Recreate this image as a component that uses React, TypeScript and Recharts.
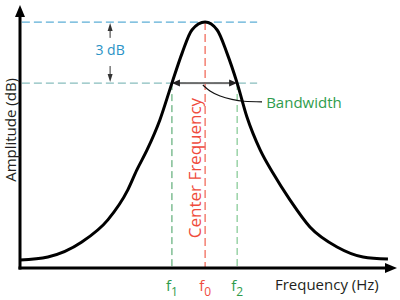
import React from 'react';
import { ComposedChart, Line, XAxis, YAxis, ReferenceLine, ReferenceDot } from 'recharts';

// Response curve (frequency in arbitrary units 0..100, amplitude 0..100)
const frequency = [0, 7.4, 16.4, 23.3, 28.6, 31.0, 33.7, 37.1, 40.3, 43.0, 45.6, 49.1, 52.3, 54.9, 57.6, 60.2, 63.7, 67.1, 71.6, 76.9, 84.1, 91.0, 97.6];
const amplitude = [3.0, 4.2, 9.9, 18.3, 29.7, 37.3, 44.9, 56.3, 70.3, 81.7, 90.5, 93.5, 90.5, 81.7, 70.3, 57.4, 44.9, 36.1, 25.9, 15.6, 8.0, 4.2, 3.4];

// Leader line from the bandwidth arrows to the "Bandwidth" label
const leaderX = [48.5, 50.4, 53.1, 56.2, 59.4, 64.2];
const leaderY = [69.6, 67.3, 65.4, 64.1, 63.4, 63.2];

// Key frequencies and levels
const f1 = 40.3;
const f0 = 49.1;
const f2 = 57.6;
const peakDb = 93.5;
const halfDb = 70.3;
const dashEnd = 62.9;
const dbArrowX = 23.9;
const dbArrowUp = [87.5, 93.2];
const dbArrowDown = [76.8, 70.7];

// Tick labels
const tickValues = [f1, f0, f2];
const tickMain = ['f', 'f', 'f'];
const tickSubs = ['1', '0', '2'];

// Text labels
const labels = {
  db: '3 dB',
  bandwidth: 'Bandwidth',
  center: 'Center Frequency',
  xTitle: 'Frequency (Hz)',
  yTitle: 'Amplitude (dB)',
};
const labelPos = {
  db: [23.9, 82.9],
  bandwidth: [65.3, 63.1],
  center: [46.2, 38.0],
  xTitle: [81.4, -6.1],
  yTitle: [-2.65, 52.5],
};

const curveData = frequency.map((x, i) => ({ x, y: amplitude[i] }));
const leaderData = leaderX.map((x, i) => ({ x, y: leaderY[i] }));

const FONT = '"Open Sans", "Noto Sans", sans-serif';
const COL = {
  blue: '#3399cc',
  teal: '#88bdbd',
  red: '#f0604e',
  green: '#3f9d5c',
  lightGreen: '#80c791',
  gray: '#6b6b6b',
  text: '#231f20',
  blueText: '#2b93c6',
  greenText: '#2f9c4c',
  redText: '#ef4b3c',
};
const tickColors = [COL.greenText, COL.redText, COL.greenText];

function arrowShape(color: string, width: number, headLen: number, headW: number, headColor?: string, cap: 'butt' | 'square' = 'butt') {
  return (p: any) => {
    const { x1, y1, x2, y2 } = p;
    const dx = x2 - x1;
    const dy = y2 - y1;
    const len = Math.sqrt(dx * dx + dy * dy) || 1;
    const ux = dx / len;
    const uy = dy / len;
    const bx = x2 - ux * headLen;
    const by = y2 - uy * headLen;
    const lx = x2 - ux * headLen * 0.8;
    const ly = y2 - uy * headLen * 0.8;
    const nx = -uy * headW / 2;
    const ny = ux * headW / 2;
    return (
      <g>
        <line x1={x1} y1={y1} x2={lx} y2={ly} stroke={color} strokeWidth={width} strokeLinecap={cap} />
        <polygon points={`${x2},${y2} ${bx + nx},${by + ny} ${bx - nx},${by - ny}`} fill={headColor || color} />
      </g>
    );
  };
}

function textShape(text: string, color: string, size: number, anchor: 'start' | 'middle' | 'end', rotate = 0) {
  return (p: any) => (
    <text
      x={p.cx}
      y={p.cy}
      fill={color}
      fontSize={size}
      fontFamily={FONT}
      textAnchor={anchor}
      dominantBaseline="central"
      transform={rotate ? `rotate(${rotate} ${p.cx} ${p.cy})` : undefined}
    >
      {text}
    </text>
  );
}

const Tick = (props: any) => {
  const { x, y, payload } = props;
  const i = tickValues.indexOf(payload.value);
  const idx = i < 0 ? 0 : i;
  return (
    <text x={x} y={y + 15} fill={tickColors[idx]} fontSize={15} fontFamily={FONT} textAnchor="middle">
      <tspan>{tickMain[idx]}</tspan>
      <tspan dy={5} fontSize={12}>{tickSubs[idx]}</tspan>
    </text>
  );
};

export default function App() {
  return (
    <div style={{ position: 'absolute', left: 0, top: 0, width: 400, height: 300, background: '#fff' }}>
      <ComposedChart width={400} height={300} margin={{ top: 5, right: 3, bottom: 0, left: 20 }}>
        <XAxis
          type="number"
          dataKey="x"
          domain={[0, 100]}
          ticks={tickValues}
          tick={<Tick />}
          axisLine={false}
          tickLine={false}
          height={32}
          interval={0}
        />
        <YAxis type="number" dataKey="y" domain={[0, 100]} hide />

        {/* dashed reference levels */}
        <ReferenceLine segment={[{ x: 0.5, y: peakDb }, { x: dashEnd, y: peakDb }]} stroke={COL.blue} strokeWidth={1} strokeDasharray="8 4" />
        <ReferenceLine segment={[{ x: 0.5, y: halfDb }, { x: dashEnd, y: halfDb }]} stroke={COL.teal} strokeWidth={1.2} strokeDasharray="8 4" />
        <ReferenceLine segment={[{ x: f1, y: halfDb }, { x: f1, y: 0 }]} stroke={COL.green} strokeWidth={1} strokeDasharray="7 4" />
        <ReferenceLine segment={[{ x: f2, y: halfDb }, { x: f2, y: 0 }]} stroke={COL.lightGreen} strokeWidth={1.2} strokeDasharray="7 4" />
        <ReferenceLine segment={[{ x: f0, y: peakDb }, { x: f0, y: 0 }]} stroke={COL.red} strokeWidth={1.2} strokeDasharray="8 4" />

        {/* bandwidth arrows */}
        <ReferenceLine segment={[{ x: f0, y: halfDb }, { x: f1, y: halfDb }]} shape={arrowShape(COL.gray, 2, 8, 7, '#222')} />
        <ReferenceLine segment={[{ x: f0, y: halfDb }, { x: f2, y: halfDb }]} shape={arrowShape(COL.gray, 2, 8, 7, '#222')} />

        {/* 3 dB arrows */}
        <ReferenceLine segment={[{ x: dbArrowX, y: dbArrowUp[0] }, { x: dbArrowX, y: dbArrowUp[1] }]} shape={arrowShape('#333', 1, 8, 5)} />
        <ReferenceLine segment={[{ x: dbArrowX, y: dbArrowDown[0] }, { x: dbArrowX, y: dbArrowDown[1] }]} shape={arrowShape('#333', 1, 8, 5)} />

        {/* leader line */}
        <Line data={leaderData} dataKey="y" type="monotone" stroke="#111" strokeWidth={1.2} dot={false} activeDot={false} isAnimationActive={false} />

        {/* response curve */}
        <Line data={curveData} dataKey="y" type="monotone" stroke="#000" strokeWidth={3} dot={false} activeDot={false} isAnimationActive={false} />

        {/* axes with arrows */}
        <ReferenceLine segment={[{ x: 0, y: 0 }, { x: 0, y: 100 }]} ifOverflow="visible" shape={arrowShape('#000', 3, 12, 10, '#000', 'square')} />
        <ReferenceLine segment={[{ x: 0, y: 0 }, { x: 100, y: 0 }]} ifOverflow="visible" shape={arrowShape('#000', 3, 12, 10, '#000', 'square')} />

        {/* text labels */}
        <ReferenceDot x={labelPos.db[0]} y={labelPos.db[1]} ifOverflow="visible" shape={textShape(labels.db, COL.blueText, 14, 'middle')} />
        <ReferenceDot x={labelPos.bandwidth[0]} y={labelPos.bandwidth[1]} ifOverflow="visible" shape={textShape(labels.bandwidth, COL.greenText, 15, 'start')} />
        <ReferenceDot x={labelPos.center[0]} y={labelPos.center[1]} ifOverflow="visible" shape={textShape(labels.center, COL.redText, 17, 'middle', -90)} />
        <ReferenceDot x={labelPos.xTitle[0]} y={labelPos.xTitle[1]} ifOverflow="visible" shape={textShape(labels.xTitle, COL.text, 15, 'middle')} />
        <ReferenceDot x={labelPos.yTitle[0]} y={labelPos.yTitle[1]} ifOverflow="visible" shape={textShape(labels.yTitle, COL.text, 15, 'middle', -90)} />
      </ComposedChart>
    </div>
  );
}
